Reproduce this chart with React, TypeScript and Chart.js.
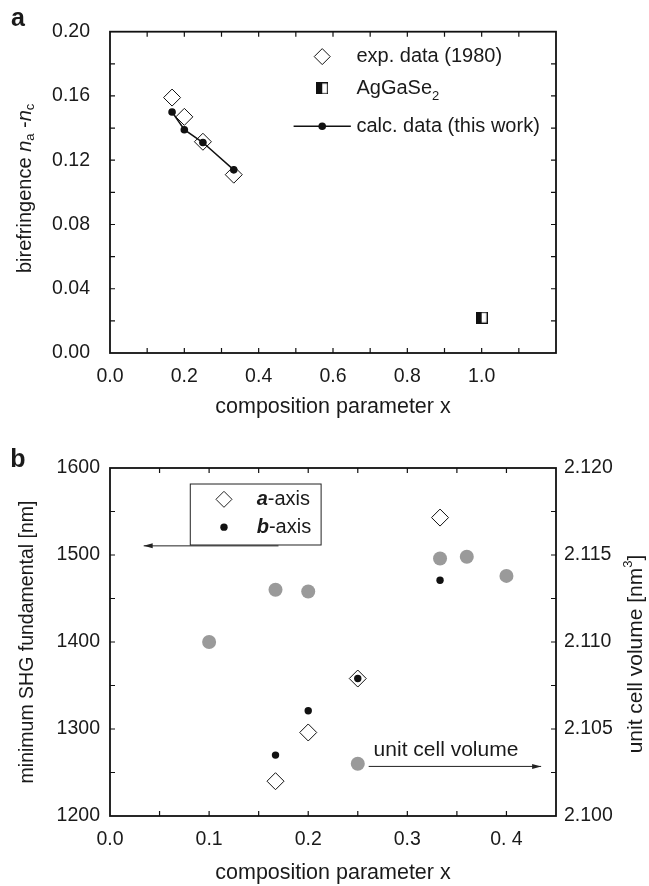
import React, { useEffect, useRef } from 'react';
import { Chart, registerables } from 'chart.js';

Chart.register(...registerables);

const FONT = '"Liberation Sans", Arial, sans-serif';
const TEXT = '#1a1a1a';
const LINE = '#111111';

// ---------- Panel a data ----------
const expX = [0.167, 0.2, 0.25, 0.333];
const expY = [0.159, 0.147, 0.1315, 0.111];
const calcX = [0.167, 0.2, 0.25, 0.333];
const calcY = [0.150, 0.139, 0.131, 0.114];
const agX = [1.0];
const agY = [0.022];
const aXLabels = ['0.0', '0.2', '0.4', '0.6', '0.8', '1.0'];

// ---------- Panel b data ----------
const shgX = [0.167, 0.2, 0.25, 0.333];
const aAxisShg = [1240, 1296, 1358, 1543];
const bAxisShg = [1270, 1321, 1358, 1471];
const volX = [0.1, 0.167, 0.2, 0.25, 0.333, 0.36, 0.4];
const volY = [2.1100, 2.1130, 2.1129, 2.1030, 2.1148, 2.1149, 2.1138];
const bXLabels = ['0.0', '0.1', '0.2', '0.3', '0. 4'];

const pts = (xs: number[], ys: number[]) => xs.map((x, i) => ({ x, y: ys[i] }));

function stepValues(min: number, max: number, step: number) {
  const out: number[] = [];
  const n = Math.round((max - min) / step);
  for (let i = 0; i <= n; i++) out.push(min + i * step);
  return out;
}

function makeHalfSquare(): HTMLCanvasElement {
  const c = document.createElement('canvas');
  c.width = 12;
  c.height = 12;
  const g = c.getContext('2d')!;
  g.fillStyle = '#ffffff';
  g.fillRect(0, 0, 12, 12);
  g.fillStyle = '#111111';
  g.fillRect(0, 0, 6, 12);
  g.strokeStyle = '#111111';
  g.lineWidth = 1.2;
  g.strokeRect(0.6, 0.6, 10.8, 10.8);
  return c;
}

type Run = { text: string; font: string; dy?: number };
function drawRuns(ctx: CanvasRenderingContext2D, runs: Run[], cx: number, cy: number, rot: number, align: 'center' | 'left' = 'center') {
  ctx.save();
  ctx.translate(cx, cy);
  ctx.rotate(rot);
  ctx.fillStyle = TEXT;
  ctx.textBaseline = 'middle';
  ctx.textAlign = 'left';
  let total = 0;
  for (const r of runs) {
    ctx.font = r.font;
    total += ctx.measureText(r.text).width;
  }
  let x = align === 'center' ? -total / 2 : 0;
  for (const r of runs) {
    ctx.font = r.font;
    ctx.fillText(r.text, x, r.dy || 0);
    x += ctx.measureText(r.text).width;
  }
  ctx.restore();
}

const F = (size: number, style = '') => `${style} ${size}px ${FONT}`.trim();

function makeFramePlugin(xStep: number, yStep: number) {
  return {
    id: 'frame' + xStep,
    beforeDatasetsDraw(chart: any) {
      const { ctx, chartArea: a } = chart;
      const xs = chart.scales.x;
      const ys = chart.scales.y;
      ctx.save();
      ctx.strokeStyle = LINE;
      ctx.lineWidth = 1.2;
      ctx.beginPath();
      const L = 5;
      for (const v of stepValues(xs.min, xs.max, xStep)) {
        const px = xs.getPixelForValue(v);
        if (px <= a.left + 1 || px >= a.right - 1) continue;
        ctx.moveTo(px, a.bottom);
        ctx.lineTo(px, a.bottom - L);
        ctx.moveTo(px, a.top);
        ctx.lineTo(px, a.top + L);
      }
      for (const v of stepValues(ys.min, ys.max, yStep)) {
        const py = ys.getPixelForValue(v);
        if (py <= a.top + 1 || py >= a.bottom - 1) continue;
        ctx.moveTo(a.left, py);
        ctx.lineTo(a.left + L, py);
        ctx.moveTo(a.right, py);
        ctx.lineTo(a.right - L, py);
      }
      ctx.stroke();
      ctx.lineWidth = 1.8;
      ctx.strokeRect(a.left, a.top, a.right - a.left, a.bottom - a.top);
      ctx.restore();
    },
  };
}

function arrow(ctx: CanvasRenderingContext2D, x1: number, y1: number, x2: number, y2: number) {
  ctx.save();
  ctx.strokeStyle = '#222';
  ctx.fillStyle = '#222';
  ctx.lineWidth = 1;
  ctx.beginPath();
  ctx.moveTo(x1, y1);
  ctx.lineTo(x2, y2);
  ctx.stroke();
  const dir = Math.sign(x2 - x1);
  ctx.beginPath();
  ctx.moveTo(x2, y2);
  ctx.lineTo(x2 - dir * 9, y2 - 2.5);
  ctx.lineTo(x2 - dir * 9, y2 + 2.5);
  ctx.closePath();
  ctx.fill();
  ctx.restore();
}

export default function App() {
  const ref1 = useRef<HTMLCanvasElement>(null);
  const ref2 = useRef<HTMLCanvasElement>(null);

  useEffect(() => {
    document.body.style.margin = '0';
    const half = makeHalfSquare();
    const tickFont = { family: FONT, size: 19.5 };

    // ---------------- Panel a ----------------
    const annA = {
      id: 'annA',
      afterDraw(chart: any) {
        const { ctx, chartArea: a } = chart;
        const xs = chart.scales.x;
        const ys = chart.scales.y;
        drawRuns(ctx, [{ text: 'a', font: F(25, 'bold') }], 18, 19, 0);
        drawRuns(
          ctx,
          [
            { text: 'birefringence ', font: F(20) },
            { text: 'n', font: F(20, 'italic') },
            { text: 'a', font: F(13), dy: 5 },
            { text: ' -', font: F(20) },
            { text: 'n', font: F(20, 'italic') },
            { text: 'c', font: F(13), dy: 5 },
          ],
          25,
          (a.top + a.bottom) / 2 - 4,
          -Math.PI / 2
        );
        const mx = xs.getPixelForValue(0.571);
        const tx = xs.getPixelForValue(0.663);
        const y1 = ys.getPixelForValue(0.1845);
        const y2 = ys.getPixelForValue(0.1647);
        const y3 = ys.getPixelForValue(0.1411);
        ctx.save();
        ctx.strokeStyle = '#111';
        ctx.fillStyle = '#fff';
        ctx.lineWidth = 1;
        ctx.beginPath();
        ctx.moveTo(mx, y1 - 8);
        ctx.lineTo(mx + 8, y1);
        ctx.lineTo(mx, y1 + 8);
        ctx.lineTo(mx - 8, y1);
        ctx.closePath();
        ctx.fill();
        ctx.stroke();
        ctx.drawImage(half, mx - 6, y2 - 6);
        ctx.beginPath();
        ctx.lineWidth = 1.5;
        ctx.moveTo(xs.getPixelForValue(0.494), y3);
        ctx.lineTo(xs.getPixelForValue(0.648), y3);
        ctx.stroke();
        ctx.fillStyle = '#111';
        ctx.beginPath();
        ctx.arc(mx, y3, 3.8, 0, Math.PI * 2);
        ctx.fill();
        ctx.restore();
        drawRuns(ctx, [{ text: 'exp. data (1980)', font: F(20) }], tx, y1, 0, 'left');
        drawRuns(
          ctx,
          [
            { text: 'AgGaSe', font: F(20) },
            { text: '2', font: F(13), dy: 8 },
          ],
          tx,
          y2,
          0,
          'left'
        );
        drawRuns(ctx, [{ text: 'calc. data (this work)', font: F(20) }], tx, y3, 0, 'left');
      },
    };

    const chartA = new Chart(ref1.current!, {
      type: 'scatter',
      data: {
        datasets: [
          {
            label: 'calc. data (this work)',
            data: pts(calcX, calcY),
            showLine: true,
            borderColor: '#111',
            borderWidth: 1.5,
            backgroundColor: '#111',
            pointRadius: 3.8,
            pointBorderWidth: 0,
            pointBackgroundColor: '#111',
          },
          {
            label: 'exp. data (1980)',
            data: pts(expX, expY),
            pointStyle: 'rectRot',
            pointRadius: 8.5,
            pointBackgroundColor: '#ffffff',
            pointBorderColor: '#111',
            pointBorderWidth: 1,
          },
          {
            label: 'AgGaSe2',
            data: pts(agX, agY),
            pointStyle: half as any,
            pointRadius: 6,
          },
        ],
      },
      options: {
        responsive: false,
        animation: false,
        events: [],
        layout: { padding: { top: 23, left: 0, right: 93, bottom: 0 } },
        plugins: { legend: { display: false }, tooltip: { enabled: false } },
        scales: {
          x: {
            type: 'linear',
            min: 0,
            max: 1.2,
            afterFit: (s: any) => {
              s.height = 67;
            },
            ticks: {
              stepSize: 0.2,
              autoSkip: false,
              maxRotation: 0,
              padding: 12,
              color: TEXT,
              font: tickFont,
              callback: (v: any) => {
                const i = Math.round(Number(v) * 5);
                return i < aXLabels.length ? aXLabels[i] : '';
              },
            },
            grid: { display: false, drawTicks: false },
            border: { display: false },
            title: {
              display: true,
              text: 'composition parameter x',
              color: TEXT,
              font: { family: FONT, size: 21.5 },
              padding: { top: 0, bottom: 0 },
            },
          },
          y: {
            type: 'linear',
            min: 0,
            max: 0.2,
            afterFit: (s: any) => {
              s.width = 110;
            },
            ticks: {
              stepSize: 0.04,
              padding: 20,
              color: TEXT,
              font: tickFont,
              callback: (v: any) => Number(v).toFixed(2),
            },
            grid: { display: false, drawTicks: false },
            border: { display: false },
          },
        },
      },
      plugins: [makeFramePlugin(0.1, 0.02), annA],
    });

    // ---------------- Panel b ----------------
    const annB = {
      id: 'annB',
      afterDraw(chart: any) {
        const { ctx, chartArea: a } = chart;
        const xs = chart.scales.x;
        const ys = chart.scales.y;
        drawRuns(ctx, [{ text: 'b', font: F(25, 'bold') }], 18, 40, 0);
        drawRuns(ctx, [{ text: 'minimum SHG fundamental [nm]', font: F(19.5) }], 28, (a.top + a.bottom) / 2, -Math.PI / 2);
        drawRuns(
          ctx,
          [
            { text: 'unit cell volume [nm', font: F(21) },
            { text: '3', font: F(13), dy: -8 },
            { text: ']', font: F(21) },
          ],
          636,
          (a.top + a.bottom) / 2 + 12,
          -Math.PI / 2
        );
        const bx1 = xs.getPixelForValue(0.081);
        const bx2 = xs.getPixelForValue(0.213);
        const by1 = ys.getPixelForValue(1581.6);
        const by2 = ys.getPixelForValue(1511.5);
        ctx.save();
        ctx.strokeStyle = '#222';
        ctx.lineWidth = 1;
        ctx.strokeRect(bx1, by1, bx2 - bx1, by2 - by1);
        const mx = xs.getPixelForValue(0.115);
        const d1 = ys.getPixelForValue(1564);
        const d2 = ys.getPixelForValue(1532);
        ctx.fillStyle = '#fff';
        ctx.beginPath();
        ctx.moveTo(mx, d1 - 8);
        ctx.lineTo(mx + 8, d1);
        ctx.lineTo(mx, d1 + 8);
        ctx.lineTo(mx - 8, d1);
        ctx.closePath();
        ctx.fill();
        ctx.stroke();
        ctx.fillStyle = '#111';
        ctx.beginPath();
        ctx.arc(mx, d2, 3.7, 0, Math.PI * 2);
        ctx.fill();
        ctx.restore();
        const tx = xs.getPixelForValue(0.148);
        drawRuns(
          ctx,
          [
            { text: 'a', font: F(20, 'italic bold') },
            { text: '-axis', font: F(20) },
          ],
          tx,
          d1,
          0,
          'left'
        );
        drawRuns(
          ctx,
          [
            { text: 'b', font: F(20, 'italic bold') },
            { text: '-axis', font: F(20) },
          ],
          tx,
          d2,
          0,
          'left'
        );
        const ay = ys.getPixelForValue(1510.5);
        arrow(ctx, xs.getPixelForValue(0.17), ay, xs.getPixelForValue(0.034), ay);
        const ay2 = ys.getPixelForValue(1257);
        arrow(ctx, xs.getPixelForValue(0.261), ay2, xs.getPixelForValue(0.435), ay2);
        drawRuns(ctx, [{ text: 'unit cell volume', font: F(21) }], xs.getPixelForValue(0.339), ys.getPixelForValue(1276), 0);
      },
    };

    const chartB = new Chart(ref2.current!, {
      type: 'scatter',
      data: {
        datasets: [
          {
            label: 'b-axis',
            data: pts(shgX, bAxisShg),
            pointRadius: 3.7,
            pointBorderWidth: 0,
            pointBackgroundColor: '#111',
            yAxisID: 'y',
          },
          {
            label: 'a-axis',
            data: pts(shgX, aAxisShg),
            pointStyle: 'rectRot',
            pointRadius: 8.5,
            pointBackgroundColor: '#ffffff',
            pointBorderColor: '#111',
            pointBorderWidth: 1,
            yAxisID: 'y',
          },
          {
            label: 'unit cell volume',
            data: pts(volX, volY),
            pointRadius: 7,
            pointBorderWidth: 0,
            pointBackgroundColor: '#9a9a9a',
            yAxisID: 'y2',
          },
        ],
      },
      options: {
        responsive: false,
        animation: false,
        events: [],
        layout: { padding: { top: 48, left: 0, right: 0, bottom: 0 } },
        plugins: { legend: { display: false }, tooltip: { enabled: false } },
        scales: {
          x: {
            type: 'linear',
            min: 0,
            max: 0.45,
            afterFit: (s: any) => {
              s.height = 70;
            },
            ticks: {
              stepSize: 0.1,
              includeBounds: false,
              autoSkip: false,
              maxRotation: 0,
              padding: 12,
              color: TEXT,
              font: tickFont,
              callback: (v: any) => {
                const n = Number(v) * 10;
                const i = Math.round(n);
                return Math.abs(n - i) < 1e-6 && i < bXLabels.length ? bXLabels[i] : '';
              },
            },
            grid: { display: false, drawTicks: false },
            border: { display: false },
            title: {
              display: true,
              text: 'composition parameter x',
              color: TEXT,
              font: { family: FONT, size: 21.5 },
              padding: { top: 0, bottom: 0 },
            },
          },
          y: {
            type: 'linear',
            position: 'left',
            min: 1200,
            max: 1600,
            afterFit: (s: any) => {
              s.width = 110;
            },
            ticks: {
              stepSize: 100,
              padding: 10,
              color: TEXT,
              font: tickFont,
              callback: (v: any) => String(Math.round(Number(v))),
            },
            grid: { display: false, drawTicks: false },
            border: { display: false },
          },
          y2: {
            type: 'linear',
            position: 'right',
            min: 2.1,
            max: 2.12,
            afterFit: (s: any) => {
              s.width = 93;
            },
            ticks: {
              stepSize: 0.005,
              padding: 8,
              color: TEXT,
              font: tickFont,
              callback: (v: any) => Number(v).toFixed(3),
            },
            grid: { display: false, drawTicks: false },
            border: { display: false },
          },
        },
      },
      plugins: [makeFramePlugin(0.05, 50), annB],
    });

    return () => {
      chartA.destroy();
      chartB.destroy();
    };
  }, []);

  return (
    <div style={{ position: 'relative', width: 649, height: 886, background: '#fff' }}>
      <canvas ref={ref1} width={649} height={420} style={{ position: 'absolute', left: 0, top: 0, width: 649, height: 420 }} />
      <canvas ref={ref2} width={649} height={466} style={{ position: 'absolute', left: 0, top: 420, width: 649, height: 466 }} />
    </div>
  );
}
